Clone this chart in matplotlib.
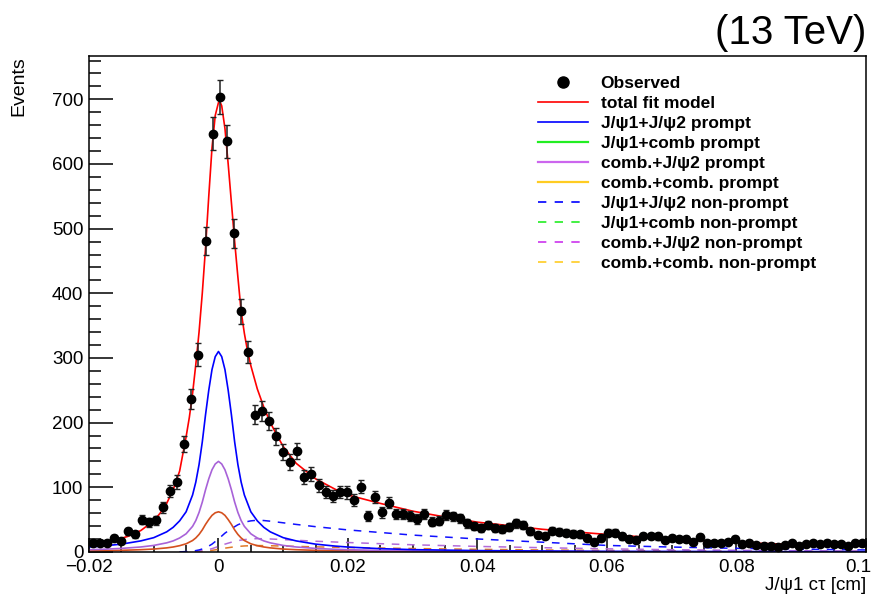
import matplotlib
matplotlib.use("Agg")
import matplotlib.pyplot as plt
import matplotlib.transforms as mtransforms
from matplotlib.lines import Line2D
from matplotlib.ticker import MultipleLocator
import numpy as np

plt.rcParams["font.family"] = ["Liberation Sans", "DejaVu Sans"]

# binning of the observed histogram
N_BINS = 110
X_MIN, X_MAX = -0.02, 0.1

# observed counts per bin
counts = [14, 14, 14, 21, 17, 32, 27, 50, 46, 49,
          69, 94, 108, 167, 236, 305, 481, 647, 704, 635,
          493, 372, 309, 212, 218, 202, 179, 155, 139, 156,
          116, 120, 103, 93, 87, 93, 92, 80, 101, 56,
          85, 61, 76, 58, 59, 56, 51, 59, 47, 48,
          57, 55, 52, 44, 40, 37, 42, 37, 35, 38,
          44, 42, 32, 26, 25, 33, 31, 30, 28, 27,
          22, 15, 22, 30, 30, 24, 20, 18, 25, 25,
          24, 19, 21, 20, 20, 16, 23, 13, 13, 14,
          16, 20, 12, 14, 11, 9, 9, 8, 11, 13,
          9, 12, 13, 12, 14, 12, 12, 9, 14, 13]

# total fit model
total_x = [-0.02, -0.018, -0.016, -0.014, -0.012, -0.010, -0.009, -0.008, -0.007,
           -0.006, -0.005, -0.0045, -0.004, -0.0035, -0.003, -0.0025, -0.002,
           -0.0015, -0.001, -0.0005, 0.0, 0.0002, 0.0005, 0.001, 0.0015, 0.002,
           0.0025, 0.003, 0.0035, 0.004, 0.0045, 0.005, 0.006, 0.007, 0.008,
           0.009, 0.010, 0.012, 0.015, 0.018, 0.02, 0.025, 0.03, 0.035, 0.04,
           0.05, 0.06, 0.07, 0.08, 0.09, 0.1]
total_y = [11, 14, 18, 24, 33, 48, 60, 75, 96,
           125, 178, 208, 245, 290, 340, 400, 470,
           550, 625, 675, 695, 697, 690, 655, 600, 540,
           480, 425, 372, 338, 310, 288, 252, 224, 200,
           181, 163, 137, 113, 97, 88, 75, 63, 54, 46,
           35, 27, 20, 14.5, 11, 8.5]

# prompt components
prompt_x = [-0.02, -0.018, -0.015, -0.012, -0.01, -0.008, -0.007, -0.006, -0.005,
            -0.004, -0.0035, -0.003, -0.0025, -0.002, -0.0015, -0.001, -0.0005,
            0.0, 0.0005, 0.001, 0.0015, 0.002, 0.0025, 0.003, 0.0035, 0.004,
            0.005, 0.006, 0.007, 0.008, 0.01, 0.012, 0.015, 0.018, 0.02, 0.025,
            0.03, 0.04, 0.06, 0.1]
jj_prompt = [7.5, 9, 12, 17, 22, 31, 38, 48, 62,
             88, 108, 135, 170, 212, 250, 282, 302,
             310, 302, 282, 250, 212, 170, 135, 108, 88,
             62, 48, 38, 31, 22, 17, 12, 9, 7.5, 5,
             3.5, 2, 0.8, 0.2]
cj_prompt = [3.4, 4, 5.4, 7.6, 10, 14, 17, 21.5, 28,
             39.5, 48.5, 61, 77, 96, 113, 127, 136,
             140, 136, 127, 113, 96, 77, 61, 48.5, 39.5,
             28, 21.5, 17, 14, 10, 7.6, 5.4, 4, 3.4, 2.3,
             1.6, 0.9, 0.4, 0.1]
cc_prompt = [1.5, 1.8, 2.4, 3.4, 4.4, 6.2, 7.6, 9.6, 12.5,
             17.6, 21.6, 27, 34, 42.5, 50, 56.5, 60.5,
             62, 60.5, 56.5, 50, 42.5, 34, 27, 21.6, 17.6,
             12.5, 9.6, 7.6, 6.2, 4.4, 3.4, 2.4, 1.8, 1.5, 1,
             0.7, 0.4, 0.15, 0]

# non-prompt components
np_x = [-0.006, -0.004, -0.003, -0.002, -0.001, 0.0, 0.001, 0.002, 0.003, 0.004,
        0.005, 0.006, 0.007, 0.008, 0.01, 0.012, 0.015, 0.02, 0.025, 0.03,
        0.04, 0.05, 0.06, 0.07, 0.08, 0.09, 0.1]
jj_nonprompt = [0, 1, 3, 6, 12, 20, 29, 36, 42, 46,
                48, 49, 48.5, 47.5, 45, 42.5, 39, 34, 30, 26,
                20, 15, 10, 7.5, 5.5, 4.2, 3]
cj_nonprompt = [0, 0.4, 1.3, 2.5, 5, 8.5, 12, 15, 17.5, 19,
                20, 20.5, 20.3, 20, 19, 18, 16.5, 14.5, 12.7, 11,
                8.5, 6.5, 4.7, 3.4, 2.5, 1.8, 1.3]
cc_nonprompt = [0, 0.2, 0.6, 1.2, 2.4, 4, 5.8, 7.2, 8.4, 9.2,
                9.6, 9.8, 9.7, 9.5, 9, 8.5, 7.8, 6.8, 6, 5.2,
                4, 3, 2.2, 1.6, 1.2, 0.9, 0.6]

x_tick_vals = [-0.02, 0, 0.02, 0.04, 0.06, 0.08, 0.1]
x_tick_labels = ["\u22120.02", "0", "0.02", "0.04", "0.06", "0.08", "0.1"]

edges = np.linspace(X_MIN, X_MAX, N_BINS + 1)
centers = 0.5 * (edges[:-1] + edges[1:])
counts = np.array(counts, dtype=float)
errors = np.sqrt(counts)

fig = plt.figure(figsize=(8.74, 5.96), dpi=100)
ax = fig.add_axes([0.1018, 0.074, 0.889, 0.832])

DASH = (0, (5, 5))
ax.plot(np_x, cc_nonprompt, color="#e07a2a", lw=1.1, ls=DASH)
ax.plot(np_x, cj_nonprompt, color="#b36ad8", lw=1.1, ls=DASH)
ax.plot(np_x, jj_nonprompt, color="#1010ff", lw=1.1, ls=DASH)
ax.plot(prompt_x, cc_prompt, color="#d4501e", lw=1.2)
ax.plot(prompt_x, cj_prompt, color="#a862d8", lw=1.2)
ax.plot(prompt_x, jj_prompt, color="#0000ff", lw=1.2)
ax.plot(total_x, total_y, color="#ff0000", lw=1.2)

ax.errorbar(centers, counts, yerr=errors, fmt="o", color="black", ms=6,
            ecolor="#222222", elinewidth=1.1, capsize=2.2, capthick=1.0, zorder=5)

ax.set_xlim(X_MIN, X_MAX)
ax.set_ylim(0, 767)
ax.set_xticks(x_tick_vals)
ax.set_xticklabels(x_tick_labels)
ax.xaxis.set_minor_locator(MultipleLocator(0.005))
ax.yaxis.set_major_locator(MultipleLocator(100))
ax.yaxis.set_minor_locator(MultipleLocator(20))
ax.tick_params(axis="both", which="both", direction="in", width=1.1,
               labelsize=13.5, top=False, right=False)
ax.tick_params(axis="x", which="major", length=10, pad=5)
ax.tick_params(axis="x", which="minor", length=5)
ax.tick_params(axis="y", which="major", length=17, pad=4)
ax.tick_params(axis="y", which="minor", length=8.5)
for s in ax.spines.values():
    s.set_linewidth(1.1)

# last x label sits a little left of its tick, as in the original
last = ax.get_xticklabels()[-1]
last.set_transform(last.get_transform() +
                   mtransforms.ScaledTranslation(-8 / 100, 0, fig.dpi_scale_trans))

fig.text(0.9908, 0.004, "J/\u03c81 c\u03c4 [cm]", ha="right", va="bottom", fontsize=13.5)
fig.text(0.012, 0.906, "Events", rotation=90, ha="left", va="top", fontsize=14)
fig.text(0.9915, 0.926, "(13 TeV)", ha="right", va="baseline", fontsize=29)

handles = [
    Line2D([], [], ls="none", marker="o", color="black", ms=8),
    Line2D([], [], color="#ff0000", lw=1.2),
    Line2D([], [], color="#0000ff", lw=1.2),
    Line2D([], [], color="#22ee22", lw=1.6),
    Line2D([], [], color="#cc66ee", lw=1.6),
    Line2D([], [], color="#ffcc22", lw=1.6),
    Line2D([], [], color="#0000ff", lw=1.2, ls=DASH),
    Line2D([], [], color="#22ee22", lw=1.2, ls=DASH),
    Line2D([], [], color="#cc33ee", lw=1.2, ls=DASH),
    Line2D([], [], color="#ffcc22", lw=1.2, ls=DASH),
]
labels = ["Observed", "total fit model", "J/\u03c81+J/\u03c82 prompt",
          "J/\u03c81+comb prompt", "comb.+J/\u03c82 prompt", "comb.+comb. prompt",
          "J/\u03c81+J/\u03c82 non-prompt", "J/\u03c81+comb non-prompt",
          "comb.+J/\u03c82 non-prompt", "comb.+comb. non-prompt"]
leg = ax.legend(handles, labels, loc="upper left", bbox_to_anchor=(0.578, 0.960),
                frameon=False, prop={"weight": "bold", "size": 12.5},
                handlelength=2.9, handletextpad=0.7, labelspacing=0.28,
                borderaxespad=0, borderpad=0)

fig.savefig("out.png", dpi=100)
